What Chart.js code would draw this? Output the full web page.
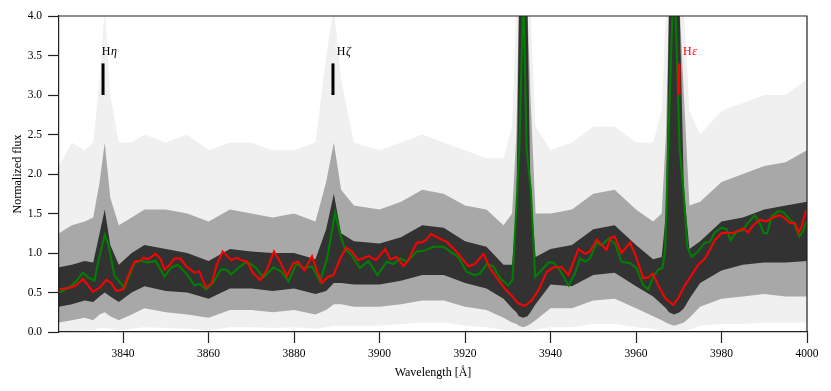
<!DOCTYPE html>
<html><head><meta charset="utf-8">
<script src="https://cdn.jsdelivr.net/npm/chart.js@4"></script>
<style>html,body{margin:0;padding:0;background:#fff;}canvas{display:block;}</style>
</head><body>
<canvas id="c" width="831" height="391"></canvas>
<script>
// ---- data ----
const greenWl = [3825.1,3827.5,3829.0,3830.6,3831.8,3833.3,3834.1,3835.7,3836.5,3838.0,3840.3,3842.7,3844.2,3845.8,3847.6,3849.7,3851.3,3852.8,3854.8,3856.7,3857.9,3859.4,3861.0,3862.9,3864.1,3865.3,3866.9,3869.0,3870.9,3872.8,3875.2,3877.1,3878.7,3880.5,3882.2,3884.2,3886.1,3887.8,3889.6,3890.8,3891.9,3893.5,3895.4,3897.4,3899.5,3901.7,3903.2,3904.8,3906.4,3908.7,3910.6,3912.6,3914.9,3916.5,3918.4,3920.4,3922.3,3923.5,3925.1,3926.6,3928.2,3930.1,3931.1,3932.7,3933.65,3934.4,3935.4,3936.4,3937.5,3939.5,3940.7,3942.2,3944.2,3945.7,3946.9,3948.1,3949.2,3950.8,3952.0,3953.5,3955.1,3956.6,3958.6,3960.1,3961.7,3962.9,3964.0,3965.2,3966.2,3966.8,3967.5,3968.9,3970.2,3971.1,3972.0,3973.0,3974.5,3976.1,3977.3,3978.4,3980.0,3981.2,3982.1,3983.5,3985.1,3986.0,3987.8,3989.0,3989.9,3990.7,3991.7,3993.3,3994.4,3996.1,3997.2,3998.2,3999.0,3999.8];
const greenFlux = [0.50,0.57,0.64,0.75,0.69,0.65,0.87,1.23,1.12,0.71,0.56,0.88,0.90,0.88,0.90,0.70,0.82,0.85,0.74,0.59,0.61,0.54,0.62,0.79,0.79,0.73,0.81,0.89,0.82,0.69,0.82,0.76,0.64,0.86,0.81,0.83,0.64,0.95,1.51,1.23,1.05,0.97,0.81,0.90,0.72,0.89,0.86,0.93,0.89,1.02,1.03,1.08,1.08,1.02,0.95,0.76,0.72,0.74,0.86,0.83,0.68,0.59,0.66,2.31,4.35,2.31,1.80,0.70,0.76,0.88,0.88,0.78,0.59,0.74,0.93,0.89,0.93,1.13,1.10,1.18,1.12,0.89,0.87,0.81,0.59,0.54,0.70,0.79,0.81,1.04,2.31,4.70,2.31,1.80,1.08,0.95,1.02,1.13,1.14,1.26,1.32,1.30,1.16,1.27,1.29,1.37,1.48,1.37,1.25,1.25,1.46,1.53,1.52,1.42,1.35,1.21,1.27,1.39];

const redWl = [3825.1,3827.5,3829.0,3830.6,3831.8,3832.9,3834.5,3836.1,3837.2,3838.4,3840.0,3841.1,3842.7,3844.2,3844.8,3845.8,3847.6,3848.7,3849.7,3850.9,3852.0,3853.4,3854.8,3856.7,3857.8,3859.4,3860.8,3861.9,3863.3,3865.3,3866.5,3867.7,3869.0,3870.5,3872.1,3873.6,3875.3,3876.7,3878.3,3879.8,3880.9,3882.4,3884.2,3885.3,3886.5,3888.0,3889.2,3890.8,3892.2,3893.5,3895.0,3897.4,3899.2,3901.3,3902.5,3904.0,3905.6,3906.7,3908.7,3910.1,3911.0,3912.0,3914.2,3915.7,3916.9,3918.4,3920.8,3922.3,3924.3,3925.8,3927.8,3929.3,3930.9,3932.5,3934.0,3935.6,3937.2,3939.1,3940.7,3942.6,3944.2,3946.5,3948.1,3949.2,3950.8,3952.0,3953.1,3954.0,3955.0,3956.6,3958.6,3959.9,3961.7,3962.9,3963.9,3965.2,3966.8,3968.7,3969.9,3971.4,3973.0,3974.5,3976.1,3977.3,3978.4,3980.0,3981.2,3982.4,3983.9,3985.1,3986.2,3987.4,3989.0,3990.5,3992.1,3993.6,3994.8,3996.0,3997.2,3998.0,3998.7,3999.8];
const redFlux = [0.54,0.56,0.59,0.67,0.59,0.51,0.56,0.66,0.62,0.52,0.54,0.70,0.89,0.91,0.94,0.92,0.99,0.93,0.79,0.85,0.93,0.93,0.83,0.75,0.77,0.56,0.62,0.85,1.02,0.91,0.94,0.91,0.89,0.74,0.66,0.78,1.02,0.89,0.71,0.87,0.89,0.78,0.96,0.78,0.62,0.70,0.72,0.93,1.07,1.02,0.91,0.96,0.91,1.05,0.92,0.95,0.83,0.91,1.13,1.14,1.17,1.24,1.18,1.14,1.08,0.99,0.83,0.86,0.99,0.81,0.66,0.55,0.46,0.36,0.33,0.40,0.53,0.76,0.82,0.82,0.72,1.05,0.99,1.02,1.17,1.10,1.04,1.19,1.21,1.00,1.13,0.97,0.68,0.69,0.74,0.59,0.43,0.34,0.43,0.59,0.72,0.85,0.93,1.04,1.16,1.25,1.26,1.25,1.28,1.31,1.26,1.35,1.42,1.40,1.45,1.48,1.44,1.38,1.38,1.26,1.33,1.54];

// envelope of the many individual spectra (dense core, middle spread, faint outer spread)
const bandWl = [3825,3828,3831,3833,3834.5,3835.7,3837,3839,3842,3845,3850,3855,3860,3865,3870,3875,3880,3885,3887.5,3889.3,3891,3894,3900,3905,3910,3915,3920,3925,3929,3931,3932,3932.6,3933.6,3934.6,3935.3,3936.5,3940,3945,3950,3955,3960,3964,3966,3967,3967.7,3968.9,3970.2,3971.2,3972.5,3975,3980,3985,3990,3995,4000];
const coreLo = [0.32,0.35,0.40,0.38,0.45,0.50,0.45,0.38,0.50,0.58,0.52,0.50,0.42,0.55,0.55,0.52,0.55,0.48,0.52,0.62,0.62,0.60,0.60,0.65,0.72,0.72,0.62,0.55,0.42,0.30,0.25,0.20,0.18,0.20,0.25,0.35,0.60,0.58,0.72,0.75,0.58,0.45,0.35,0.30,0.25,0.22,0.25,0.30,0.42,0.62,0.78,0.85,0.88,0.88,0.90];
const coreHi = [0.82,0.85,0.90,0.88,1.25,1.55,1.10,0.85,1.00,1.10,1.05,1.00,0.90,1.05,1.02,1.00,1.00,0.92,1.30,1.75,1.25,1.15,1.12,1.20,1.35,1.32,1.15,1.08,0.85,0.85,1.50,4.10,4.10,4.10,1.80,0.95,1.05,1.10,1.30,1.35,1.10,0.92,0.95,1.50,4.10,4.10,4.10,1.80,1.05,1.15,1.40,1.45,1.55,1.60,1.65];
const midLo = [0.12,0.15,0.18,0.15,0.22,0.25,0.20,0.15,0.22,0.30,0.25,0.22,0.18,0.28,0.28,0.25,0.28,0.22,0.28,0.35,0.35,0.32,0.32,0.35,0.40,0.40,0.32,0.28,0.18,0.12,0.10,0.08,0.06,0.08,0.10,0.15,0.30,0.30,0.40,0.42,0.30,0.20,0.15,0.12,0.10,0.08,0.10,0.12,0.18,0.32,0.42,0.45,0.48,0.45,0.45];
const midHi = [1.25,1.35,1.40,1.45,1.90,2.40,1.70,1.35,1.45,1.55,1.55,1.50,1.40,1.55,1.50,1.45,1.50,1.40,1.90,2.40,1.80,1.60,1.55,1.65,1.80,1.75,1.60,1.55,1.35,1.50,2.50,4.10,4.10,4.10,3.00,1.50,1.50,1.55,1.75,1.80,1.55,1.40,1.50,2.50,4.10,4.10,4.10,3.00,1.60,1.65,1.90,2.00,2.10,2.15,2.30];
const outLo = [0.00,0.00,0.02,0.02,0.05,0.05,0.04,0.02,0.04,0.06,0.05,0.04,0.02,0.06,0.06,0.05,0.06,0.04,0.06,0.08,0.08,0.08,0.08,0.10,0.12,0.12,0.08,0.06,0.03,0.02,0.02,0.02,0.02,0.02,0.02,0.03,0.06,0.06,0.10,0.10,0.06,0.04,0.02,0.02,0.02,0.02,0.02,0.02,0.03,0.08,0.10,0.10,0.12,0.12,0.12];
const outHi = [2.10,2.40,2.30,2.40,3.20,4.10,3.00,2.40,2.40,2.50,2.40,2.50,2.30,2.40,2.40,2.30,2.30,2.40,3.50,4.10,3.20,2.40,2.30,2.40,2.50,2.40,2.30,2.20,2.20,2.60,4.10,4.10,4.10,4.10,4.10,2.60,2.30,2.40,2.60,2.60,2.40,2.40,2.80,4.10,4.10,4.10,4.10,4.10,2.80,2.50,2.80,2.90,3.00,3.00,3.20];

// line markers
const markWl = [3835.3, 3889.1, 3970.0];
const markLabelWl = [3835.0, 3890.0, 3971.0];
const markGreek = ['\u03B7', '\u03B6', '\u03B5'];
const markColor = ['#000000', '#000000', '#ff0000'];
const markLo = 3.0, markHi = 3.4, markLabelY = 3.54;

const xTicks = [3840, 3860, 3880, 3900, 3920, 3940, 3960, 3980, 4000];
const yTicks = [0.0, 0.5, 1.0, 1.5, 2.0, 2.5, 3.0, 3.5, 4.0];

// ---- build datasets ----
const zip = (xs, ys) => xs.map((x, i) => ({x: x, y: ys[i]}));
const datasets = [];
const bands = [[outLo, outHi, 0.06], [midLo, midHi, 0.30], [coreLo, coreHi, 0.70]];
bands.forEach((b, k) => {
  datasets.push({data: zip(bandWl, b[0]), borderColor: 'rgba(0,0,0,0)', borderWidth: 1, pointRadius: 0, fill: false, order: 30 - k});
  datasets.push({data: zip(bandWl, b[1]), borderColor: 'rgba(0,0,0,0)', borderWidth: 1, pointRadius: 0, fill: '-1', backgroundColor: 'rgba(0,0,0,' + b[2] + ')', order: 30 - k});
});
datasets.push({data: zip(greenWl, greenFlux), borderColor: '#008000', borderWidth: 2, pointRadius: 0, fill: false, order: 2});
datasets.push({data: zip(redWl, redFlux), borderColor: '#ff0000', borderWidth: 2, pointRadius: 0, fill: false, order: 1});
markWl.forEach((w, i) => {
  datasets.push({data: [{x: w, y: markLo}, {x: w, y: markHi}], borderColor: markColor[i], borderWidth: 3, borderCapStyle: 'butt', pointRadius: 0, fill: false, order: 0});
});

const serif = "'Liberation Serif', 'Times New Roman', serif";

const framePlugin = {
  id: 'frame',
  afterDatasetsDraw(chart) {
    const {ctx, chartArea: a, scales} = chart;
    ctx.save();
    markWl.forEach((w, i) => {
      const px = scales.x.getPixelForValue(markLabelWl[i]);
      const py = scales.y.getPixelForValue(markLabelY);
      ctx.fillStyle = markColor[i];
      ctx.textBaseline = 'middle';
      ctx.textAlign = 'left';
      ctx.font = "12px " + serif;
      ctx.fillText('H', px, py);
      const hw = ctx.measureText('H').width;
      ctx.font = "italic 12px " + serif;
      ctx.fillText(markGreek[i], px + hw + 0.5, py);
    });
    ctx.strokeStyle = '#222';
    ctx.lineWidth = 1.2;
    ctx.beginPath();
    ctx.moveTo(a.left, a.top); ctx.lineTo(a.right, a.top); ctx.lineTo(a.right, a.bottom);
    ctx.stroke();
    ctx.restore();
  }
};

new Chart(document.getElementById('c'), {
  type: 'line',
  data: {datasets: datasets},
  plugins: [framePlugin],
  options: {
    responsive: false,
    animation: false,
    devicePixelRatio: 1,
    layout: {padding: {left: 0, right: 24, top: 16, bottom: 0}},
    plugins: {legend: {display: false}, tooltip: {enabled: false}},
    elements: {line: {tension: 0}},
    scales: {
      x: {
        type: 'linear', min: 3825, max: 4000,
        afterBuildTicks: s => { s.ticks = xTicks.map(v => ({value: v})); },
        afterFit: s => { s.height = 59; },
        ticks: {color: '#000', font: {family: serif, size: 11.5}, padding: 4, maxRotation: 0, autoSkip: false, callback: v => String(v)},
        grid: {drawOnChartArea: false, drawTicks: true, tickLength: 11, tickColor: '#222', tickWidth: 1.2},
        border: {display: true, color: '#222', width: 1.2},
        title: {display: true, text: 'Wavelength [\u00C5]', color: '#000', font: {family: serif, size: 12}, padding: {top: 0, bottom: 11}}
      },
      y: {
        type: 'linear', min: 0, max: 4,
        afterBuildTicks: s => { s.ticks = yTicks.map(v => ({value: v})); },
        afterFit: s => { s.width = 59; },
        ticks: {color: '#000', font: {family: serif, size: 11.5}, padding: 6, callback: v => Number(v).toFixed(1)},
        grid: {drawOnChartArea: false, drawTicks: true, tickLength: 11, tickColor: '#222', tickWidth: 1.2},
        border: {display: true, color: '#222', width: 1.2},
        title: {display: true, text: 'Normalized flux', color: '#000', font: {family: serif, size: 12}, padding: {top: 11, bottom: 0}}
      }
    }
  }
});
</script>
</body></html>
